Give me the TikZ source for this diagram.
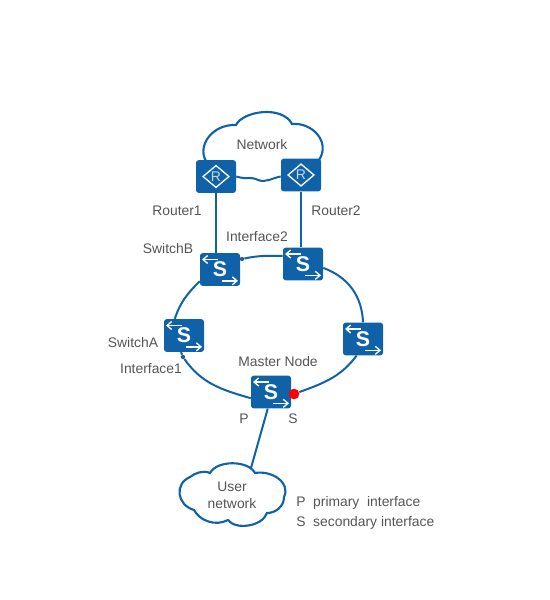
\documentclass[tikz,border=0pt]{standalone}
\usepackage{fontspec}
\setmainfont{Liberation Sans}
\usepackage{tikz}
\usetikzlibrary{arrows.meta}
\definecolor{devblue}{HTML}{0F62A8}
\definecolor{labelgray}{HTML}{555555}

\begin{document}
\begin{tikzpicture}[
    x=0.75pt, y=-0.75pt,
    every edge/.style={draw=devblue, line width=1.5pt},
    cloudline/.style={draw=devblue, line width=1.6pt, fill=white},
    devbox/.style={fill=devblue, rounded corners=2pt, minimum width=30pt, minimum height=24.5pt, inner sep=0pt},
    switchbox/.style={devbox, text=white, font=\fontsize{16}{16}\selectfont\bfseries},
    routerbox/.style={devbox, text=white!75!devblue, font=\fontsize{10.5}{10.5}\selectfont},
    iconline/.style={draw=white, line width=1pt},
    portdot/.style={circle, fill=labelgray!60!devblue, minimum size=3.2pt, inner sep=0pt},
    labeltext/.style={text=labelgray, font=\fontsize{10.4}{12}\selectfont, align=center, inner sep=0pt, yshift=-0.6pt}
]
    \useasboundingbox (0,0) rectangle (550,600);

    % clouds
    \draw[cloudline] (206,161) .. controls (197,146) and (212,124) .. (236,125)
        .. controls (243,111) and (282,105) .. (292,124)
        .. controls (312,122) and (331,142) .. (319,160);
    \draw[cloudline] (210,473) .. controls (217,460) and (248,460) .. (255,473)
        .. controls (272,470) and (291,483) .. (284,497)
        .. controls (284,507) and (275,513) .. (267,513)
        .. controls (262,527) and (235,530) .. (228,520)
        .. controls (215,527) and (199,520) .. (194,510)
        .. controls (177,505) and (174,484) .. (190,477)
        .. controls (195,473) and (203,470) .. (210,473) -- cycle;
    \coordinate (usertop) at (251,468);

    \node[routerbox] (r1) at (216,176.5) {R};
    \node[routerbox] (r2) at (301,175) {R};
    \node[switchbox] (swb) at (220,269.5) {S};
    \node[switchbox] (swt) at (303,264) {S};
    \node[switchbox] (swa) at (184,335.5) {S};
    \node[switchbox] (swr) at (363,339) {S};
    \node[switchbox] (master) at (271,392) {S};

    \foreach \rt in {r1,r2}
        \draw[iconline] ([xshift=-9.7pt]\rt.center) -- ([yshift=8.2pt]\rt.center)
            -- ([xshift=9.7pt]\rt.center) -- ([yshift=-8.2pt]\rt.center) -- cycle;
    \foreach \sw in {swb,swt,swa,swr,master} {
        \draw[iconline, -{Straight Barb[length=3.5pt,width=6pt]}]
            ([shift={(-1.5pt,7.5pt)}]\sw.center) -- ([shift={(-13.5pt,7.5pt)}]\sw.center);
        \draw[iconline, -{Straight Barb[length=3.5pt,width=6pt]}]
            ([shift={(1.5pt,-8.5pt)}]\sw.center) -- ([shift={(13.5pt,-8.5pt)}]\sw.center);
    }

    \node[portdot] (ifone) at (183,357) {};
    \node[portdot] (iftwo) at (242,259) {};
    \node[circle, fill=red, minimum size=8pt, inner sep=0pt] (reddot) at (294,394) {};

    \path
        (r1.south)  edge (r1.south |- swb.north)
        (r2.south)  edge (r2.south |- swt.north)
        (iftwo)     edge[out=12, in=180]   (swt.158)
        (swt.-11)   edge[out=-20, in=92]   (swr.north)
        (swr.249)   edge[out=233, in=20]   (reddot)
        (master.197) edge[out=164, in=-55] (ifone)
        (ifone)     edge (swa.260)
        (swa.119)   edge[out=72, in=225]   (swb.210)
        (master.259) edge (usertop);
    \draw[devblue, line width=1.5pt] (r1.east) .. controls (248,180) and (250,176) .. (258,180)
        .. controls (266,183) and (272,178) .. (r2.west |- r1.east);

    \node[labeltext] (network) at (262,144) {Network};
    \node[labeltext] (router1) at (177,210) {Router1};
    \node[labeltext] (router2) at (336,210) {Router2};
    \node[labeltext] (iface2) at (257,236) {Interface2};
    \node[labeltext] (switchb) at (168,248) {SwitchB};
    \node[labeltext] (switcha) at (133,342) {SwitchA};
    \node[labeltext] (iface1) at (151,368) {Interface1};
    \node[labeltext] (mastername) at (278,361) {Master Node};
    \node[labeltext] (plabel) at (244,418) {P};
    \node[labeltext] (slabel) at (293,418) {S};
    \node[labeltext] (usernet) at (232,494.5) {User\\[0.75pt]network};
    \node[labeltext, anchor=west] (legendp) at (296,502) {P\ \ primary\ \ interface};
    \node[labeltext, anchor=west] (legends) at (296,522) {S\ \ secondary interface};
\end{tikzpicture}
\end{document}
